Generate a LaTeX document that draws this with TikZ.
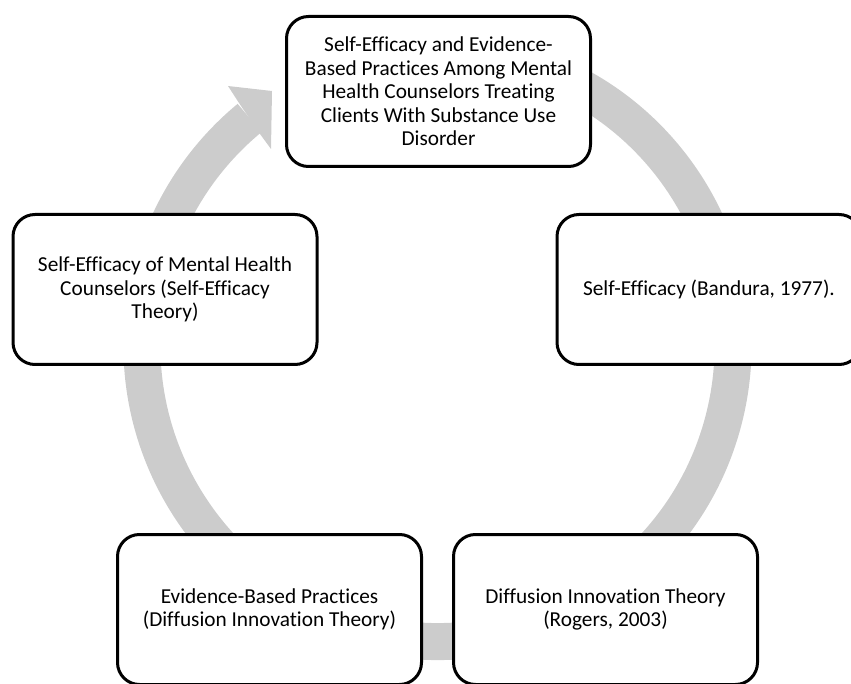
\documentclass[tikz,border=0pt]{standalone}
\usepackage{fontspec}
\setmainfont{Carlito}[Ligatures=NoCommon]
\usetikzlibrary{calc}
\definecolor{ringgray}{RGB}{204,204,204}
\tikzset{
  cyclebox/.style={draw=black, line width=3pt, fill=white, rounded corners=22pt,
    minimum width=304pt, minimum height=150pt, align=center, inner sep=0pt,
    font=\fontsize{21.3}{23.5}\selectfont},
}
\begin{document}
\begin{tikzpicture}[x=1pt,y=1pt]
\useasboundingbox (0,0) rectangle (851,-684);
\clip (0,0) rectangle (851,-684);
\coordinate (C) at (437.5,-346);
% circular arrow band
\draw[ringgray, line width=37pt] ($(C)+(75:295.5)$) arc[start angle=75, end angle=-230.5, radius=295.5];
\fill[ringgray] (239,-103) -- (228,-86) -- (272,-91) -- (271,-149) -- (260,-134) -- cycle;
% boxes
\node[cyclebox] (top) at (438.5,-91.5) {Self-Efficacy and Evidence-\\Based Practices Among Mental\\Health Counselors Treating\\Clients With Substance Use\\Disorder};
\node[cyclebox] (right) at (709,-289.5) {Self-Efficacy (Bandura, 1977).};
\node[cyclebox] (left) at (165,-289.5) {Self-Efficacy of Mental Health\\Counselors (Self-Efficacy\\Theory)};
\node[cyclebox] (bl) at (269.5,-609.5) {Evidence-Based Practices\\(Diffusion Innovation Theory)};
\node[cyclebox] (br) at (605.5,-609.5) {Diffusion Innovation Theory\\(Rogers, 2003)};
\end{tikzpicture}
\end{document}
